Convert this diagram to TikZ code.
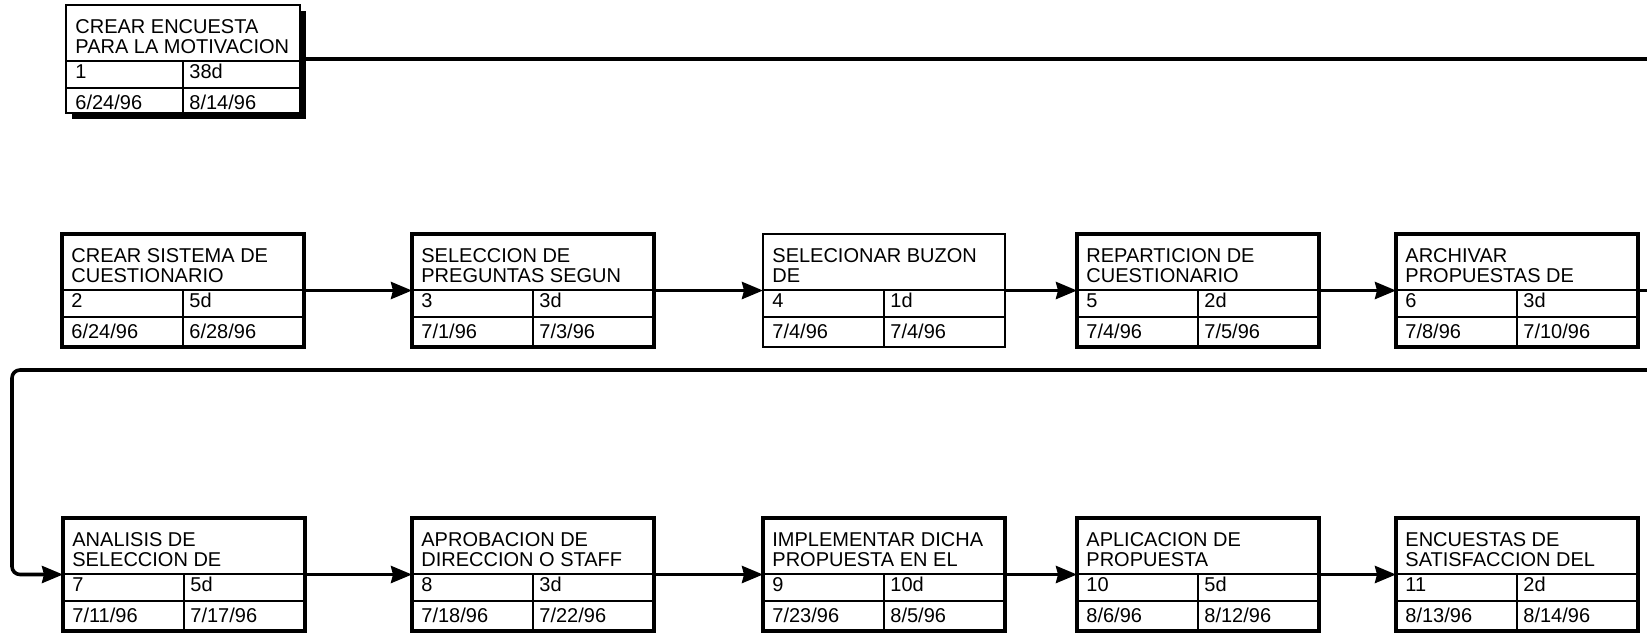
\documentclass[tikz,border=0pt]{standalone}
\usepackage{fontspec}
\setmainfont{Liberation Sans}
\usetikzlibrary{arrows.meta,shadows}
\tikzstyle{task-box}=[fill=white,rectangle,draw=black,line width=2.2pt,minimum width=121pt,minimum height=56.5pt,anchor=north west,inner sep=0pt,outer sep=0pt]
\tikzstyle{thin-box}=[task-box,line width=0.9pt]
\tikzstyle{summary-box}=[thin-box,minimum width=117pt,minimum height=54pt,drop shadow={shadow xshift=3pt,shadow yshift=-3pt,fill=black,opacity=1}]
\tikzstyle{cell-line}=[draw=black,line width=0.9pt]
\tikzstyle{task-text}=[inner sep=0pt,anchor=base west,align=left,font=\fontsize{10}{10}\selectfont]
\tikzstyle{black-line}=[draw=black,line width=1.8pt]

% name, x, y, style, title, id, duration, start, finish
\newcommand{\taskbox}[9]{%
	\node (#1)[#4] at (#2,#3) {};
	\draw[cell-line] ([yshift=-28pt]#1.north west) -- ([yshift=-28pt]#1.north east);
	\draw[cell-line] ([yshift=-41.5pt]#1.north west) -- ([yshift=-41.5pt]#1.north east);
	\draw[cell-line] ([yshift=-28pt]#1.north) -- (#1.south);
	\node[task-text,anchor=north west] at ([xshift=4.5pt,yshift=-7pt]#1.north west) {#5};
	\node[task-text] at ([xshift=4.5pt,yshift=-36.5pt]#1.north west) {#6};
	\node[task-text] at ([xshift=3pt,yshift=-36.5pt]#1.north) {#7};
	\node[task-text] at ([xshift=4.5pt,yshift=-52pt]#1.north west) {#8};
	\node[task-text] at ([xshift=3pt,yshift=-52pt]#1.north) {#9};
}

\begin{document}
\begin{tikzpicture}[x=0.5pt,y=-0.5pt]
	\useasboundingbox (0,0) rectangle (1647,633);
	\begin{scope}
	\taskbox{t1}{66}{5}{summary-box}{CREAR ENCUESTA\\PARA LA MOTIVACION}{1}{38d}{6/24/96}{8/14/96}
	
	\taskbox{t2}{62}{234}{task-box}{CREAR SISTEMA DE\\CUESTIONARIO}{2}{5d}{6/24/96}{6/28/96}
	\taskbox{t3}{412}{234}{task-box}{SELECCION DE\\PREGUNTAS SEGUN}{3}{3d}{7/1/96}{7/3/96}
	\taskbox{t4}{763}{234}{thin-box}{SELECIONAR BUZON\\DE}{4}{1d}{7/4/96}{7/4/96}
	\taskbox{t5}{1077}{234}{task-box}{REPARTICION DE\\CUESTIONARIO}{5}{2d}{7/4/96}{7/5/96}
	\taskbox{t6}{1396}{234}{task-box}{ARCHIVAR\\PROPUESTAS DE}{6}{3d}{7/8/96}{7/10/96}
	
	\taskbox{t7}{63}{518}{task-box}{ANALISIS DE\\SELECCION DE}{7}{5d}{7/11/96}{7/17/96}
	\taskbox{t8}{412}{518}{task-box}{APROBACION DE\\DIRECCION O STAFF}{8}{3d}{7/18/96}{7/22/96}
	\taskbox{t9}{763}{518}{task-box}{IMPLEMENTAR DICHA\\PROPUESTA EN EL}{9}{10d}{7/23/96}{8/5/96}
	\taskbox{t10}{1077}{518}{task-box}{APLICACION DE\\PROPUESTA}{10}{5d}{8/6/96}{8/12/96}
	\taskbox{t11}{1396}{518}{task-box}{ENCUESTAS DE\\SATISFACCION DEL}{11}{2d}{8/13/96}{8/14/96}
	\end{scope}
	
	\coordinate (out1) at (1647,59);
	\coordinate (out6) at (1647,290.5);
	\coordinate (wrap-r) at (1647,370);
	\coordinate (wrap-l) at (12,370);
	
	\begin{scope}[>={Stealth[length=10.5pt,width=8.5pt,inset=1pt]}, every edge/.style=black-line]
	\draw[black-line] (t1.east) -- (out1);
	\path [->] (t2.east) edge (t3.west);
	\path [->] (t3.east) edge (t4.west);
	\path [->] (t4.east) edge (t5.west);
	\path [->] (t5.east) edge (t6.west);
	\draw[black-line] (t6.east) -- (out6);
	\draw[black-line,->,rounded corners=4pt] (wrap-r) -- (wrap-l) |- (t7.west);
	\path [->] (t7.east) edge (t8.west);
	\path [->] (t8.east) edge (t9.west);
	\path [->] (t9.east) edge (t10.west);
	\path [->] (t10.east) edge (t11.west);
	\end{scope}
\end{tikzpicture}
\end{document}
